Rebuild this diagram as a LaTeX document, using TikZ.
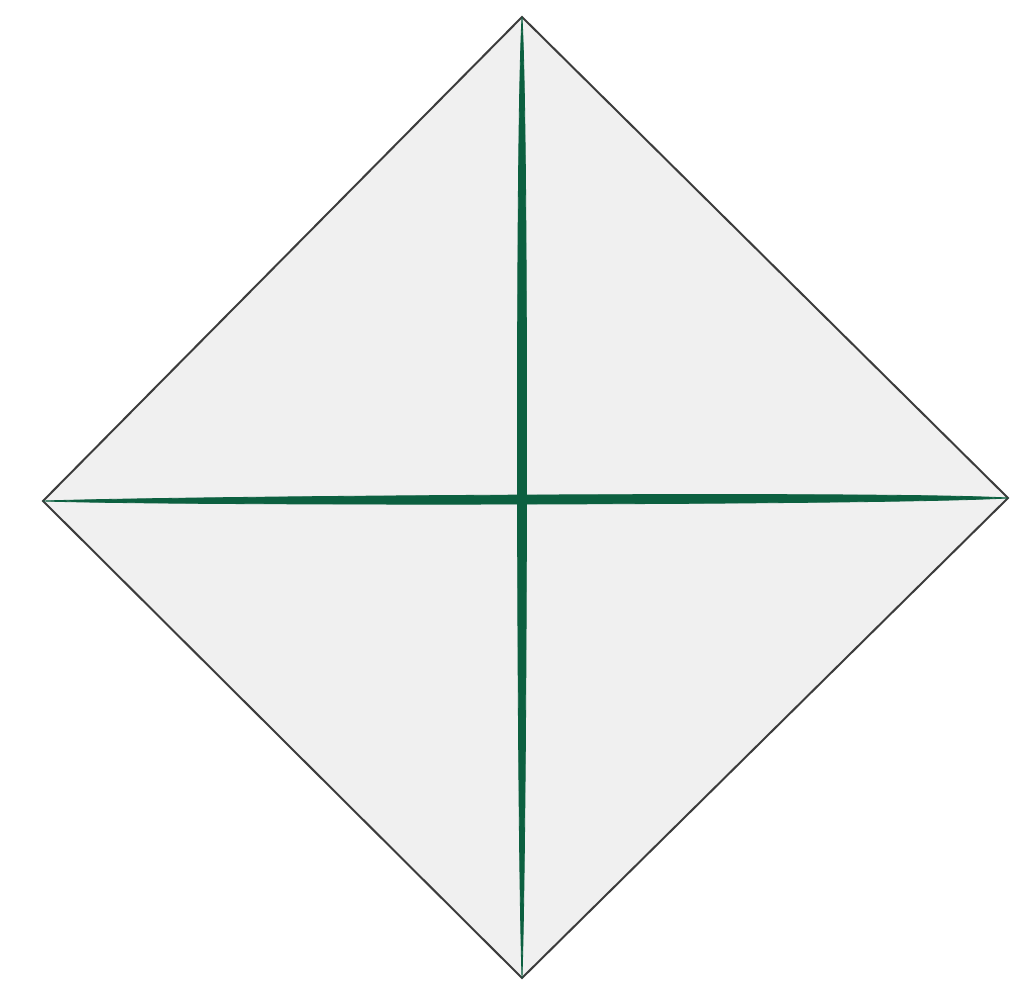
\documentclass[tikz,border=0pt]{standalone}
\usetikzlibrary{calc}
\definecolor{foldgreen}{RGB}{12,96,64}
\definecolor{papergray}{RGB}{240,240,240}
\definecolor{edgegray}{RGB}{60,60,60}
\tikzset{
  paper/.style={fill=papergray, draw=edgegray, line width=2pt, line join=miter},
  crease/.style={fill=foldgreen, draw=foldgreen, line width=0.8pt}
}
\begin{document}
\begin{tikzpicture}[x=1pt,y=-1pt]
\useasboundingbox (0,0) rectangle (1025,981);
\coordinate (T) at (522,17);
\coordinate (B) at (522,978);
\coordinate (L) at (43,501);
\coordinate (R) at (1008,498);
\coordinate (C) at (522,500);
\path[paper] (T) -- (R) -- (B) -- (L) -- cycle;
% vertical crease
\path[crease] (T) .. controls ($(T)+(7,120)$) and ($(B)+(5,-150)$) .. (B)
  .. controls ($(B)+(-5,-150)$) and ($(T)+(-7,120)$) .. (T) -- cycle;
% horizontal crease
\path[crease] (L) .. controls ($(L)+(150,-5)$) and ($(R)+(-120,-7)$) .. (R)
  .. controls ($(R)+(-120,7)$) and ($(L)+(150,5)$) .. (L) -- cycle;
\end{tikzpicture}
\end{document}
